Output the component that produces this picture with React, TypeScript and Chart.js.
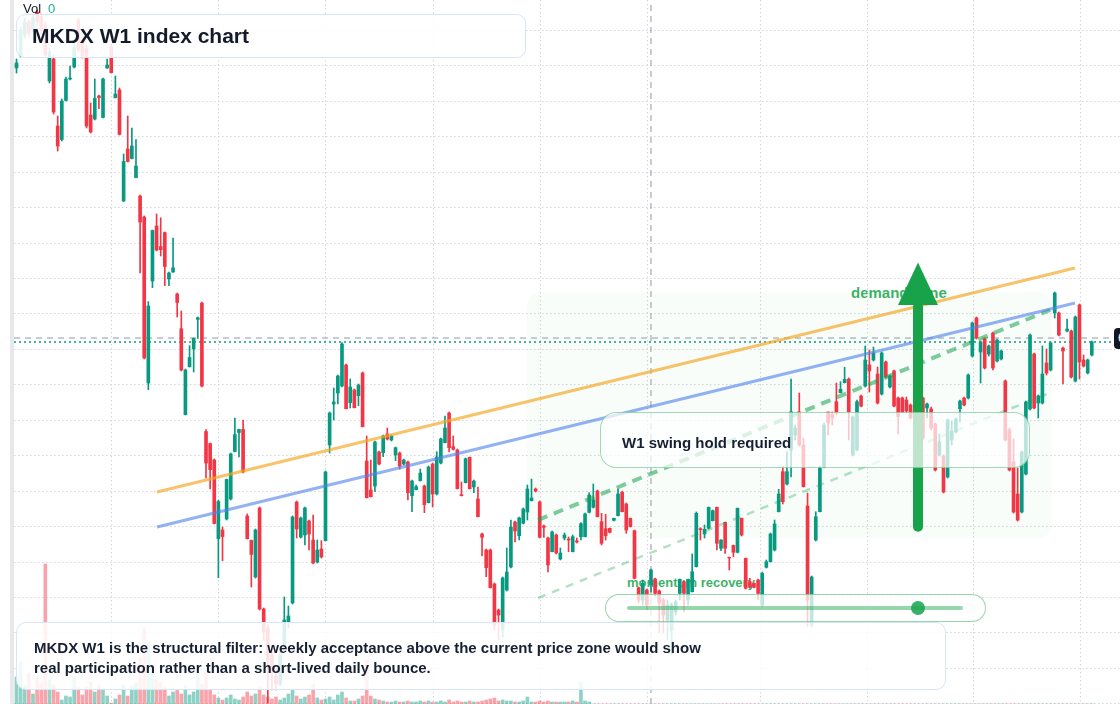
import React, { useEffect, useRef } from "react";
import { Chart, registerables } from "chart.js";

Chart.register(...registerables);

// ---------------- data (weekly candles, left to right) ----------------
const opens = [
  932, 945, 965, 978, 970, 988, 984, 975, 919, 941,
  874, 860.5, 899.5, 921, 933, 980, 960, 952, 885, 881,
  904, 882.5, 932, 953, 902.4, 910, 799, 851, 841.5, 822.4,
  804, 783, 617, 719, 774, 753.4, 767.4, 721, 728, 706,
  671.3, 585.3, 633.2, 651, 680.6, 697, 568.4, 556.5, 540, 461.3,
  470, 481, 501, 548.5, 567.5, 570.5, 484, 459.6, 423, 492,
  391, 372, 345, 324, 316, 355, 378, 397, 498, 463,
  465, 479, 460, 438, 451, 459.3, 555, 596, 607, 614,
  635, 597.3, 610, 604.3, 627, 539, 510, 514, 548, 547.3,
  566, 560, 545, 547, 536, 538, 504.3, 510.3, 519.3, 514,
  497.3, 536, 506, 537, 557.3, 587, 553.3, 550, 505.3, 517.3,
  542.7, 513, 501, 466, 450, 450, 416, 390, 370, 410,
  433, 478, 464.3, 476.7, 488, 499.3, 511, 498, 474, 462,
  448.3, 465, 441, 462, 461, 448.3, 459, 463.3, 463.3, 487.7,
  492.7, 509, 478.3, 471.3, 471.7, 479.7, 484.3, 507.7, 496, 481.7,
  469.3, 412.3, 400, 410, 415, 421, 409, 400, 380, 370,
  388, 406.7, 418.3, 400, 408.3, 433.3, 471.3, 466, 471.7, 479.3,
  492.7, 451.7, 477.7, 442.7, 454.7, 447.7, 481.7, 441.7, 418.3, 416.7,
  420, 395, 432.7, 438.3, 450, 488.3, 528.3, 516, 550, 565,
  588, 555, 494, 375, 460, 488.3, 533, 588, 586, 598.3,
  607.3, 617.3, 621, 545, 550, 604, 614, 635, 640, 626,
  606, 638, 613, 629, 602, 602, 600, 595, 590, 585,
  602, 592, 591, 576, 545, 544, 523, 560, 568, 591.3,
  602, 602, 644, 682, 648, 661, 646, 667, 639, 641,
  619, 570, 538, 506, 488, 526, 591, 646, 597, 597,
  637, 630, 687, 687, 652, 669, 669, 619, 695, 640, 627, 645,
];
const highs = [
  941, 973, 982, 980, 985, 990, 986, 978, 952, 945,
  884, 901, 923, 934, 955, 982, 964, 955, 897, 921,
  905, 922, 941, 956, 924, 912, 846, 884, 872, 860.5,
  805, 784, 698.4, 770, 786, 782.2, 768, 728, 762, 707,
  689, 631, 654.3, 662, 683, 698, 570.5, 557, 541, 500,
  473, 521, 547, 582, 571, 580, 486, 460, 471, 493,
  392, 375, 355, 332, 350, 403, 394, 484, 499, 483,
  493, 480, 485, 460, 459.3, 529, 588, 612, 625, 657.3,
  636, 621, 611, 616, 628, 564, 540, 559, 549, 565,
  572, 565, 553, 548, 541, 539, 520, 515, 531, 515,
  534, 537, 548.3, 562, 584, 588, 564, 551, 518, 542,
  543, 520, 513, 467, 451, 451, 417, 391, 423, 452,
  480, 479, 483, 492, 515, 521, 512, 499, 475, 463,
  469, 466, 452, 467, 463, 465, 462, 477.3, 487, 507.3,
  516, 510, 486.7, 485.7, 472, 482, 511, 509, 497, 482,
  470, 413, 420, 411, 431, 422, 410, 402, 400, 397,
  400, 421, 419, 421, 446, 488, 472.3, 475, 493, 490,
  493, 460.3, 478, 443, 455, 492, 482, 442, 421.7, 417,
  421, 428, 440, 467, 480, 510.7, 533.3, 548.3, 621, 575,
  607, 562, 507, 424, 488.3, 534, 577, 588, 588, 617,
  618.3, 632.7, 622, 584, 600, 605, 654, 650, 653, 633,
  648, 639, 625, 630, 603, 603, 603, 596, 595, 600,
  603, 597, 593, 577, 566, 545, 581, 579, 582, 600,
  603, 626, 678, 683, 659, 662, 655, 668, 661, 650,
  620, 572, 561, 532, 549, 599, 666, 647, 605, 654,
  651, 658, 708, 688, 653, 681, 670, 684, 696, 645, 641, 659,
];
const lows = [
  927, 943, 962, 964, 968, 974, 966, 944, 917, 886,
  849, 859, 899, 920, 932, 948, 942, 872, 867, 880,
  891.4, 882, 931.5, 927, 902, 865, 798.5, 838, 841, 822,
  727, 641, 610.3, 712.3, 749, 744, 714.4, 714.4, 727.5, 683,
  629, 585, 633, 628, 661.5, 613, 522, 511.2, 476, 422.3,
  439.3, 480, 500, 548, 543, 527, 461, 413, 422, 390,
  360, 297, 310, 310, 314, 352, 372, 396, 462, 462,
  455, 450, 436, 437, 442, 459, 547, 580, 596, 613,
  591, 592, 592, 594.3, 573, 502, 503, 508.3, 535, 543.3,
  560, 559, 539.3, 531, 535, 500, 488.3, 510, 519, 487.3,
  497, 493, 505, 536, 557, 548, 550, 511, 504, 517,
  511, 507.3, 483, 444, 423.3, 412, 370, 360, 363, 409,
  432, 458, 460, 476, 480, 499, 508, 462, 462.7, 428,
  448, 446, 440, 460, 448.3, 448, 457, 460, 463, 487,
  492, 483, 455, 460, 467, 479, 484, 488, 466.7, 473,
  421, 397, 395, 390, 408, 404, 367, 367, 360, 345,
  385, 400, 388, 395, 408, 433, 460, 462, 471, 479,
  450, 449.3, 446.7, 430, 443.3, 447, 464, 411, 412, 412,
  400, 393, 432, 438, 449, 488, 496, 515, 523, 560,
  554, 513, 373, 373, 459, 488, 532, 565, 575, 585,
  607, 617, 560, 544, 549, 593, 613, 608, 639, 596,
  605, 622, 612, 593, 566, 587, 587, 581, 582, 582,
  560, 582, 570, 529, 544, 507, 522, 555, 567, 578,
  594, 601, 643, 661, 617, 631, 644, 630, 638, 640,
  559, 529, 487, 479, 487, 525, 590, 591, 582, 596,
  625, 629, 682, 664, 616, 668, 622, 618, 621, 633, 626, 644,
];
const closes = [
  937, 970, 978, 967, 982, 978, 970, 945, 948, 888,
  854, 899, 921, 922, 952, 950, 944, 874, 868, 901.5,
  902.4, 921, 935, 927.4, 906, 865.6, 838.5, 838.5, 854, 834,
  778, 642, 694, 769.5, 750, 750.4, 733.5, 727, 732.2, 697.5,
  630, 630, 642.5, 661.5, 682.3, 614, 537, 530.3, 476.5, 498.5,
  463.4, 520.5, 546, 565.4, 570.5, 528, 461.3, 445.6, 470, 391,
  368, 340, 328, 316, 345, 380, 384, 483, 471, 482,
  492, 466, 437, 450, 443, 528, 587, 598, 624, 656,
  591.3, 613, 592.3, 615, 573.3, 502.3, 503.3, 558, 536, 564,
  561, 564, 552.3, 534, 540, 507.3, 519, 513.3, 527, 495.3,
  533, 506, 543, 561, 572, 552.3, 550.7, 511.3, 504.3, 541.3,
  511.3, 519, 483.3, 462.7, 432.3, 412.3, 375, 385, 422, 428,
  473, 469, 482, 491, 511, 502, 509, 462.7, 472.7, 435,
  468, 447, 447, 465, 460, 463.3, 458, 476.3, 486, 505,
  500, 483.3, 456.7, 464.3, 467.7, 481.7, 506, 488.3, 470, 473.3,
  421.7, 400, 416.7, 395, 430, 406.7, 397, 385, 395, 395,
  398.3, 420.7, 406.7, 420.7, 428.3, 486.7, 470.3, 470.7, 492.7, 489.3,
  456.7, 460, 451.7, 442, 447.7, 491.7, 465, 411.7, 412.7, 412.7,
  406.7, 426.7, 438.3, 466, 476, 506, 498.3, 528.3, 588.3, 572,
  555, 513.3, 400, 423, 483.3, 532.7, 575, 577, 582, 587,
  610.7, 620.7, 588, 583, 598.3, 594, 640, 629, 647, 597,
  647, 623, 624, 594, 583.3, 588, 589, 582, 585, 595,
  562, 596, 572, 530, 558, 508, 580, 569, 581, 599,
  595, 625, 677, 662, 658, 632, 654, 632, 660, 649,
  560, 530, 488, 480, 548, 598, 665, 592, 604, 626,
  627, 657, 707, 665, 649, 671, 623, 683, 638, 634, 640, 658,
];
const volumes = [
  27, 42, 19, 31, 10, 27, 21, 140, 24, 19,
  12, 4, 8, 7, 27, 17, 9, 17, 22, 12,
  19, 14, 8, 1, 5, 9, 19, 8, 18, 21,
  47, 76, 62, 31, 24, 22, 17, 8, 12, 14,
  10, 19, 9, 12, 31, 20, 31, 14, 9, 6,
  4, 6, 9, 5, 4, 7, 12, 8, 10, 17,
  9, 7, 5, 7, 4, 6, 10, 14, 8, 5,
  7, 9, 20, 6, 4, 5, 7, 4, 9, 12,
  6, 3, 3, 5, 8, 44, 8, 5, 4, 3,
  2, 2, 3, 2, 2, 3, 2, 2, 3, 2,
  3, 2, 2, 3, 2, 4, 2, 3, 2, 2,
  3, 2, 2, 3, 4, 5, 6, 3, 4, 3,
  3, 2, 2, 3, 7, 2, 2, 3, 2, 3,
  2, 2, 2, 2, 2, 3, 2, 22, 3, 2,
  0, 0, 0, 0, 0, 0, 0, 0, 0, 0,
  0, 0, 0, 0, 0, 0, 0, 0, 0, 0,
  0, 0, 0, 0, 0, 0, 0, 0, 0, 0,
  0, 0, 0, 0, 0, 0, 0, 0, 0, 0,
  0, 0, 0, 0, 0, 0, 0, 0, 0, 0,
  0, 0, 0, 0, 0, 0, 0, 0, 0, 0,
  0, 0, 0, 0, 0, 0, 0, 0, 0, 0,
  0, 0, 0, 0, 0, 0, 0, 0, 0, 0,
  0, 0, 0, 0, 0, 0, 0, 0, 0, 0,
  0, 0, 0, 0, 0, 0, 0, 0, 0, 0,
  0, 0, 0, 0, 0, 0, 0, 0, 0, 0,
  0, 0, 0, 0, 0, 0, 0, 0, 0, 0, 0, 0,
];

// grid tick positions (candle index / price)
const xGridTicks = [22.94, 48.91, 74.88, 101.09, 127.06, 153.03, 180.46, 206.43, 232.16, 258.13];
const yGridTicks = [
  970.2, 934.75, 899.3, 863.85, 828.4, 792.95, 757.5, 722.05, 686.6, 651.15,
  615.7, 580.25, 544.8, 509.35, 473.9, 438.45, 403, 367.55, 332.1, 296.65,
];

// drawn lines (candle index, price)
const orangeTrend = [{ x: 34.1, y: 508 }, { x: 256.92, y: 732 }];
const blueTrend = [{ x: 34.1, y: 473 }, { x: 256.92, y: 697 }];
const greenTrend = [{ x: 126.58, y: 480 }, { x: 250.85, y: 690 }];
const greenTrendLight = [{ x: 126.58, y: 402 }, { x: 250.12, y: 606 }];
const crosshairV = [{ x: 154.0, y: 296 }, { x: 154.0, y: 1000 }];
const crosshairH = [{ x: -0.6, y: 662 }, { x: 266.1, y: 662 }];
const lastPriceLine = [{ x: -0.6, y: 658 }, { x: 266.1, y: 658 }];
const demandZone = [123.91, 251.33, 462, 708]; // x0, x1, yLow, yHigh
const demandArrow = [218.81, 473.3, 695, 737.5]; // x, tail, head base, tip
const lastPrice = "658.00";

const X_MIN = -4.005;
const X_MAX = 267.84;
const Y_MIN = 296;
const Y_MAX = 1000;

const TEAL = "#089981";
const RED = "#f23645";
const FONT = "'Liberation Sans', Arial, Helvetica, sans-serif";

export default function App() {
  const canvasRef = useRef<HTMLCanvasElement | null>(null);

  useEffect(() => {
    const canvas = canvasRef.current;
    if (!canvas) return;
    const idx = opens.map((_, i) => i);
    const up = idx.map((i) => closes[i] >= opens[i]);
    const candleColors = up.map((u) => (u ? TEAL : RED));
    const volColors = up.map((u) => (u ? "rgba(8,153,129,0.45)" : "rgba(242,54,69,0.45)"));

    const decor = {
      id: "decor",
      beforeDatasetsDraw(chart: any) {
        const { ctx, chartArea, scales } = chart;
        const sx = scales.x;
        const sy = scales.y;
        ctx.save();
        ctx.strokeStyle = "#d3d6db";
        ctx.lineWidth = 1;
        ctx.setLineDash([1.5, 2.5]);
        for (const v of yGridTicks) {
          const py = Math.round(sy.getPixelForValue(v)) + 0.5;
          ctx.beginPath();
          ctx.moveTo(14, py);
          ctx.lineTo(chartArea.right, py);
          ctx.stroke();
        }
        for (const v of xGridTicks) {
          const px = Math.round(sx.getPixelForValue(v)) + 0.5;
          ctx.beginPath();
          ctx.moveTo(px, chartArea.top);
          ctx.lineTo(px, chartArea.bottom);
          ctx.stroke();
        }
        ctx.setLineDash([]);
        const zx0 = sx.getPixelForValue(demandZone[0]);
        const zx1 = sx.getPixelForValue(demandZone[1]);
        const zyb = sy.getPixelForValue(demandZone[2]);
        const zyt = sy.getPixelForValue(demandZone[3]);
        ctx.fillStyle = "rgba(34,197,94,0.03)";
        ctx.beginPath();
        ctx.roundRect(zx0, zyt, zx1 - zx0, zyb - zyt, 14);
        ctx.fill();
        ctx.restore();
      },
      afterDatasetsDraw(chart: any) {
        const { ctx, scales } = chart;
        const ax = scales.x.getPixelForValue(demandArrow[0]);
        const yTail = scales.y.getPixelForValue(demandArrow[1]);
        const yBase = scales.y.getPixelForValue(demandArrow[2]);
        const yTip = scales.y.getPixelForValue(demandArrow[3]);
        ctx.save();
        ctx.strokeStyle = "#18a24a";
        ctx.fillStyle = "#18a24a";
        ctx.lineWidth = 10;
        ctx.lineCap = "round";
        ctx.beginPath();
        ctx.moveTo(ax, yTail);
        ctx.lineTo(ax, yBase + 2);
        ctx.stroke();
        ctx.beginPath();
        ctx.moveTo(ax, yTip);
        ctx.lineTo(ax + 20, yBase);
        ctx.lineTo(ax - 20, yBase);
        ctx.closePath();
        ctx.fill();
        ctx.restore();
      },
    };

    const lineBase = { type: "line" as const, pointRadius: 0, fill: false, tension: 0 };

    const chart = new Chart(canvas, {
      type: "bar",
      data: {
        datasets: [
          { ...lineBase, data: orangeTrend, borderColor: "rgba(245,166,35,0.68)", borderWidth: 3, order: 1 },
          { ...lineBase, data: blueTrend, borderColor: "rgba(80,130,235,0.62)", borderWidth: 3, order: 1 },
          { ...lineBase, data: greenTrend, borderColor: "rgba(22,163,74,0.55)", borderWidth: 4, borderDash: [10, 7], order: 1 },
          { ...lineBase, data: greenTrendLight, borderColor: "rgba(22,163,74,0.32)", borderWidth: 2.5, borderDash: [8, 7], order: 1 },
          {
            type: "bar",
            data: idx.map((i) => ({ x: i, y: [opens[i], closes[i]] })) as any,
            backgroundColor: candleColors,
            barThickness: 3,
            grouped: false,
            order: 3,
          },
          {
            type: "bar",
            data: idx.map((i) => ({ x: i, y: [lows[i], highs[i]] })) as any,
            backgroundColor: candleColors,
            barThickness: 1,
            grouped: false,
            order: 4,
          },
          { ...lineBase, data: crosshairV, borderColor: "#9598a1", borderWidth: 1, borderDash: [6, 5], order: 5 },
          { ...lineBase, data: crosshairH, borderColor: "#9598a1", borderWidth: 1, borderDash: [6, 5], order: 5 },
          { ...lineBase, data: lastPriceLine, borderColor: TEAL, borderWidth: 1.5, borderDash: [2, 3], order: 5 },
          {
            type: "bar",
            yAxisID: "yv",
            data: idx.map((i) => ({ x: i, y: volumes[i] })) as any,
            backgroundColor: volColors,
            barThickness: 3,
            grouped: false,
            order: 6,
          },
        ] as any,
      },
      options: {
        responsive: false,
        animation: false,
        devicePixelRatio: 1,
        events: [],
        layout: { padding: 0 },
        plugins: { legend: { display: false }, tooltip: { enabled: false } },
        scales: {
          x: { type: "linear", min: X_MIN, max: X_MAX, display: false, offset: false },
          y: { type: "linear", min: Y_MIN, max: Y_MAX, display: false },
          yv: { type: "linear", min: 0, max: 704, display: false },
        },
      } as any,
      plugins: [decor],
    });
    return () => chart.destroy();
  }, []);

  const abs = (s: React.CSSProperties): React.CSSProperties => ({ position: "absolute", ...s });

  return (
    <div
      style={{
        position: "absolute",
        left: 0,
        top: 0,
        width: 1120,
        height: 704,
        overflow: "hidden",
        background: "#ffffff",
        fontFamily: FONT,
      }}
    >
      <div style={abs({ left: 851, top: 284, fontSize: 15, fontWeight: 700, lineHeight: "18px", color: "rgba(22,163,74,0.85)", whiteSpace: "nowrap" })}>
        demand zone
      </div>
      <div style={abs({ left: 627, top: 575, fontSize: 13, fontWeight: 700, lineHeight: "16px", color: "rgba(22,163,74,0.85)", whiteSpace: "nowrap" })}>
        momentum recovery
      </div>

      <canvas ref={canvasRef} width={1120} height={704} style={abs({ left: 0, top: 0, width: 1120, height: 704 })} />

      <div style={abs({ left: 10, top: 0, width: 4, height: 704, background: "#e8e8ea" })} />

      {/* W1 swing hold box */}
      <div
        style={abs({
          left: 600,
          top: 412,
          width: 430,
          height: 56,
          boxSizing: "border-box",
          border: "1.5px solid rgba(22,163,74,0.4)",
          borderRadius: 16,
          background: "rgba(255,255,255,0.72)",
        })}
      />
      <div style={abs({ left: 622, top: 433, fontSize: 15, fontWeight: 700, lineHeight: "20px", color: "#172033", whiteSpace: "nowrap" })}>
        W1 swing hold required
      </div>

      {/* momentum pill */}
      <div
        style={abs({
          left: 605,
          top: 594,
          width: 381,
          height: 28,
          boxSizing: "border-box",
          border: "1.5px solid rgba(22,163,74,0.45)",
          borderRadius: 14,
          background: "rgba(255,255,255,0.75)",
        })}
      />
      <div style={abs({ left: 627, top: 606, width: 336, height: 4, borderRadius: 2, background: "rgba(22,163,74,0.45)" })} />
      <div style={abs({ left: 911, top: 601, width: 14, height: 14, borderRadius: 7, background: "rgba(22,163,74,0.85)" })} />

      {/* bottom note */}
      <div
        style={abs({
          left: 16,
          top: 622,
          width: 930,
          height: 68,
          boxSizing: "border-box",
          border: "1.5px solid #d8e5f7",
          borderRadius: 10,
          background: "rgba(255,255,255,0.86)",
        })}
      />
      <div style={abs({ left: 34, top: 638, fontSize: 15, fontWeight: 700, lineHeight: "20px", color: "#172033", whiteSpace: "nowrap" })}>
        MKDX W1 is the structural filter: weekly acceptance above the current price zone would show
        <br />
        real participation rather than a short-lived daily bounce.
      </div>

      {/* title */}
      <div
        style={abs({
          left: 16,
          top: 14,
          width: 510,
          height: 44,
          boxSizing: "border-box",
          border: "1.5px solid #d8e5f7",
          borderRadius: 9,
          background: "rgba(255,255,255,0.88)",
        })}
      />
      <div style={abs({ left: 32, top: 24, fontSize: 21, fontWeight: 700, lineHeight: "24px", color: "#131b2b", whiteSpace: "nowrap" })}>
        MKDX W1 index chart
      </div>

      <div style={abs({ left: 23, top: 1, fontSize: 13, lineHeight: "15px", color: "#131722", whiteSpace: "nowrap" })}>
        Vol<span style={{ color: "#22ab94", marginLeft: 7 }}>0</span>
      </div>

      <div
        style={abs({
          left: 1114,
          top: 328,
          height: 21,
          padding: "0 4px",
          borderRadius: 4,
          background: "#131722",
          color: "#ffffff",
          fontSize: 12,
          lineHeight: "21px",
          whiteSpace: "nowrap",
        })}
      >
        {lastPrice}
      </div>
    </div>
  );
}
